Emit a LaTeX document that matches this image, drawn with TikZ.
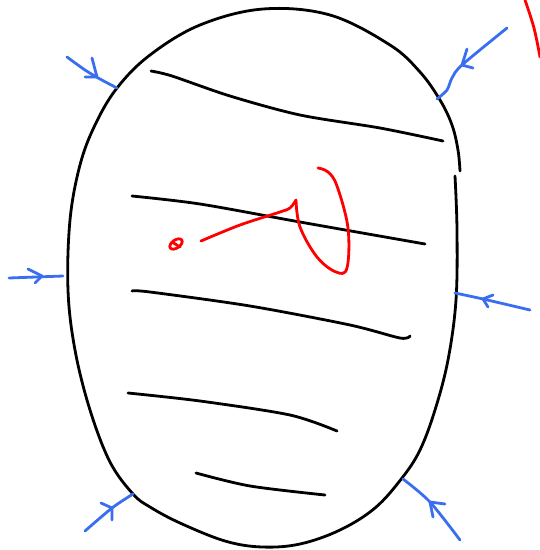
\documentclass[tikz,border=0pt]{standalone}
\begin{document}
\begin{tikzpicture}[x=1pt,y=-1pt,
  ink/.style={line width=2.8pt,line cap=round,line join=round},
  blk/.style={ink,black},
  blu/.style={ink,draw=arrowblue},
  rd/.style={ink,red}]
\definecolor{arrowblue}{RGB}{58,110,240}
\useasboundingbox (0,0) rectangle (540,550);
% outline
\draw[blk] plot[smooth,tension=0.6] coordinates {(455,176) (457,230) (456,300) (448,360) (435,410) (420,450) (402,478) (375,508) (340,530) (300,544) (262,547) (225,541) (180,523) (150,507) (133,494) (110,462) (90,410) (75,350) (68,290) (70,220) (80,165) (95,125) (117,88) (150,55) (200,25) (263,9) (330,15) (390,45) (420,72) (440,100) (452,125) (458,150) (460,171)};
% stripes
\draw[blk] plot[smooth,tension=0.5] coordinates {(151,71) (172,76) (230,96) (300,115) (380,128) (443,141)};
\draw[blk] plot[smooth,tension=0.5] coordinates {(132,196) (200,204) (300,222) (425,244)};
\draw[blk] plot[smooth,tension=0.5] coordinates {(132,291) (150,292) (250,306) (350,325) (400,338) (410,336)};
\draw[blk] plot[smooth,tension=0.5] coordinates {(128,393) (200,401) (290,415) (337,431)};
\draw[blk] plot[smooth,tension=0.5] coordinates {(196,473) (250,486) (325,495)};
% red scribbles
\draw[rd,rotate around={35:(176,244)}] (176,244) ellipse [x radius=7pt,y radius=4pt];
\draw[rd] (172,242) -- (180,247);
\draw[rd] plot[smooth,tension=0.55] coordinates {(201,241) (240,225) (280,212) (290,208) (296,200)};
\draw[rd] plot[smooth,tension=0.6] coordinates {(296,200) (300,227) (317,257) (336,272) (347,268) (348,228) (337,186) (328,172) (318,168)};
\draw[rd] plot[smooth,tension=0.6] coordinates {(525,0) (534,28) (540,57)};
% blue arrows
\draw[blu] plot[smooth,tension=0.5] coordinates {(67,57) (85,70) (100,79) (117,88)};
\draw[blu] (92,58) -- (97,77) -- (85,77);
\draw[blu] plot[smooth,tension=0.5] coordinates {(507,28) (462,65) (452,78) (447,90) (437,99)};
\draw[blu] (467,49) -- (462,65) -- (473,68);
\draw[blu] (9,278) -- (63,276);
\draw[blu] (28,269) -- (42,276) -- (35,283);
\draw[blu] plot[smooth,tension=0.5] coordinates {(530,310) (483,299) (455,293)};
\draw[blu] (493,295) -- (483,299) -- (488,307);
\draw[blu] plot[smooth,tension=0.5] coordinates {(85,531) (112,508) (133,494)};
\draw[blu] (101,503) -- (112,508) -- (112,520);
\draw[blu] plot[smooth,tension=0.5] coordinates {(460,540) (430,502) (403,479)};
\draw[blu] (445,504) -- (430,502) -- (433,517);
\end{tikzpicture}
\end{document}
